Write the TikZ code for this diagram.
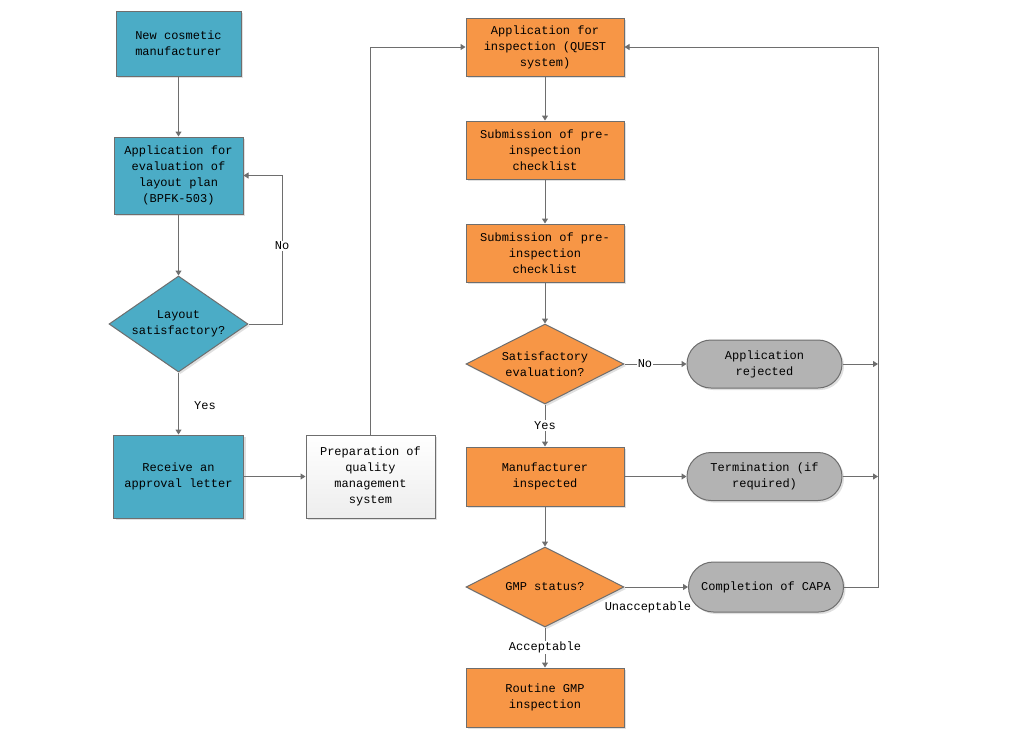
\documentclass[tikz,border=0pt]{standalone}
\usepackage{fontspec}
\setmonofont{Liberation Mono}
\usetikzlibrary{shapes.geometric,arrows.meta,shadows}
\definecolor{cteal}{HTML}{4BACC6}
\definecolor{corange}{HTML}{F79646}
\definecolor{cgrey}{HTML}{B3B3B3}
\definecolor{cline}{HTML}{6E6E6E}
\begin{document}
\begin{tikzpicture}[x=1pt,y=-1pt,
  font=\ttfamily\fontsize{12}{16}\selectfont,
  shd/.style={drop shadow={shadow xshift=2pt,shadow yshift=-2pt,fill=black,opacity=0.12}},
  box/.style={rectangle,draw=cline,line width=1pt,align=center,inner sep=2pt,shd},
  tealbox/.style={box,fill=cteal,minimum width=128pt},
  orbox/.style={box,fill=corange,minimum width=158pt,minimum height=58pt},
  whitebox/.style={box,top color=white,bottom color=black!7,minimum width=129pt,minimum height=83pt},
  dia/.style={diamond,draw=cline,line width=1pt,align=center,inner sep=0pt,shd},
  term/.style={rectangle,rounded corners=24pt,draw=cline,line width=1pt,fill=cgrey,align=center,minimum width=155pt,minimum height=48pt,shd},
  arr/.style={draw=cline,line width=1pt,-{Triangle[length=5pt,width=6pt]}},
  lbl/.style={fill=white,inner sep=1pt}]
\useasboundingbox (0,0) rectangle (1031,740);
\fill[white] (0,0) rectangle (1031,740);

% left column
\node[tealbox,minimum width=125pt,minimum height=65pt] (n1) at (178.5,43.5) {New cosmetic\\manufacturer};
\node[tealbox,minimum width=129pt,minimum height=77pt] (n2) at (178.5,175.5) {Application for\\evaluation of\\layout plan\\(BPFK-503)};
\node[dia,fill=cteal,minimum width=139pt,minimum height=96pt,shape aspect=1.45] (d1) at (178.5,324) {Layout\\satisfactory?};
\node[tealbox,minimum width=130pt,minimum height=83pt] (n3) at (178.5,476.5) {Receive an\\approval letter};
\node[whitebox] (n4) at (370.5,476.5) {Preparation of\\quality\\management\\system};

% middle column
\node[orbox] (n5) at (545,47) {Application for\\inspection (QUEST\\system)};
\node[orbox] (n6) at (545,150) {Submission of pre-\\inspection\\checklist};
\node[orbox] (n7) at (545,253) {Submission of pre-\\inspection\\checklist};
\node[dia,fill=corange,minimum width=158pt,minimum height=80pt,shape aspect=1.98] (d2) at (545,364) {Satisfactory\\evaluation?};
\node[orbox,minimum height=59pt] (n8) at (545,476.5) {Manufacturer\\inspected};
\node[dia,fill=corange,minimum width=158pt,minimum height=80pt,shape aspect=1.98] (d3) at (545,587) {GMP status?};
\node[orbox,minimum height=59pt] (n9) at (545,697.5) {Routine GMP\\inspection};

% right column
\node[term] (r1) at (764.5,364) {Application\\rejected};
\node[term] (r2) at (764.5,476.5) {Termination (if\\required)};
\node[term,minimum height=50pt,rounded corners=25pt] (r3) at (766,587) {Completion of CAPA};

\coordinate (k1) at (282,175.5);
\coordinate (rr) at (878,587);

% connectors
\draw[arr] (n1) -- (n2);
\draw[arr] (n2) -- (d1);
\draw[arr] (d1.east) -| (k1) -- (n2.east);
\node[lbl] (lno1) at (282,246) {No};
\draw[arr] (d1.south) -- (n3.north);
\node (lyes1) at (205,406) {Yes};
\draw[arr] (n3.east) -- (n4.west);
\draw[arr] (n4.north) |- (n5.west);
\draw[arr] (n5) -- (n6);
\draw[arr] (n6) -- (n7);
\draw[arr] (n7.south) -- (d2.north);
\draw[arr] (d2.east) -- node[lbl,pos=0.33] (lno2) {No} (r1.west);
\draw[arr] (d2.south) -- node[lbl] (lyes2) {Yes} (n8.north);
\draw[arr] (n8.east) -- (r2.west);
\draw[arr] (n8.south) -- (d3.north);
\draw[arr] (d3.east) -- (r3.west);
\node (lun) at (648,607) {Unacceptable};
\draw[arr] (d3.south) -- node[lbl] (lacc) {Acceptable} (n9.north);
\draw[arr] (r3.east) -- (rr) |- (n5.east);
\draw[arr] (r1.east) -- (r1.east -| rr);
\draw[arr] (r2.east) -- (r2.east -| rr);
\end{tikzpicture}
\end{document}
